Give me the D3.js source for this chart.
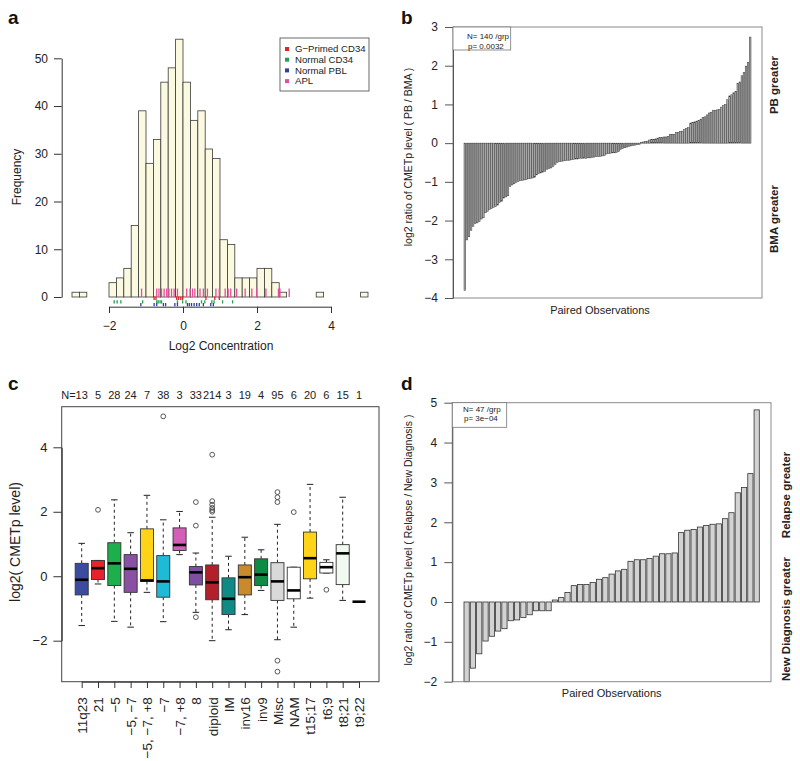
<!DOCTYPE html>
<html><head><meta charset="utf-8">
<script src="https://cdn.jsdelivr.net/npm/d3@7"></script>
<style>
body{margin:0;background:#fff;}
svg{font-family:"Liberation Sans",Arial,Helvetica,sans-serif;}
</style></head><body>
<svg id="chart" width="800" height="761"></svg>
<script>
// ---------- Panel a : histogram ----------
const histBinStarts = [-3.0,-2.8,-2.6,-2.4,-2.2,-2.0,-1.8,-1.6,-1.4,-1.2,-1.0,-0.8,-0.6,-0.4,-0.2,0.0,0.2,0.4,0.6,0.8,1.0,1.2,1.4,1.6,1.8,2.0,2.2,2.4,2.6,2.8,3.0,3.2,3.4,3.6,3.8,4.0,4.2,4.4,4.6,4.8];
const histCounts    = [1,1,0,0,0,3,4,6,15,39,28,33,45,48,54,45,37,39,31,29,12,11,4,4,4,6,6,3,1,0,0,0,0,1,0,0,0,0,0,1];
const histXTicks = [-2,0,2,4];
const histYTicks = [0,10,20,30,40,50];
const rugNames = ["G\u2212Primed CD34","Normal CD34","Normal PBL","APL"];
const rugColors = ["#E8202A","#1FA055","#2F3F9F","#E0509F"];
const rugRed   = [-0.78,-0.73,-0.17,-0.12,-0.06,-0.01,0.62,0.86,0.98];
const rugGreen = [-1.86,-1.78,-1.68,-1.09,-0.71,-0.67,-0.62,-0.58,-0.15,-0.01,0.08,0.50,0.59,0.78,0.84,1.07,1.34];
const rugBlue  = [-1.14,-0.78,-0.71,-0.53,-0.47,-0.22,-0.15,0.12,0.17,0.23,0.30,0.37,0.44,0.55,0.75,0.82];
const rugAPL   = [-1.12,-0.71,-0.65,-0.58,-0.51,-0.44,-0.38,-0.31,-0.24,-0.15,0.10,0.19,0.26,0.32,0.46,0.55,0.66,0.89,0.98,1.14,1.22,1.29,1.45,1.68,1.86,1.99,2.24,2.58,2.62,2.87];

// ---------- Panel b : PB / BMA waterfall ----------
const pbValues = [
-3.80,-2.50,-2.42,-2.25,-2.15,-2.08,-2.06,-2.03,-1.96,-1.93,
-1.80,-1.76,-1.71,-1.69,-1.66,-1.64,-1.60,-1.53,-1.50,-1.42,
-1.39,-1.36,-1.12,-1.08,-1.05,-1.01,-0.99,-0.97,-0.96,-0.95,
-0.94,-0.92,-0.91,-0.90,-0.88,-0.82,-0.79,-0.77,-0.75,-0.73,
-0.68,-0.66,-0.64,-0.60,-0.55,-0.50,-0.48,-0.47,-0.46,-0.45,
-0.44,-0.44,-0.43,-0.42,-0.41,-0.41,-0.40,-0.40,-0.39,-0.39,
-0.38,-0.38,-0.37,-0.36,-0.35,-0.35,-0.34,-0.33,-0.32,-0.28,
-0.27,-0.26,-0.25,-0.25,-0.24,-0.22,-0.16,-0.14,-0.12,-0.10,
-0.08,-0.07,-0.06,-0.05,-0.04,-0.03,0.02,0.03,0.04,0.05,
0.08,0.09,0.10,0.11,0.13,0.14,0.15,0.16,0.16,0.17,
0.22,0.23,0.23,0.27,0.28,0.30,0.31,0.35,0.38,0.40,
0.52,0.54,0.55,0.57,0.59,0.62,0.66,0.68,0.73,0.78,
0.80,0.84,0.85,0.86,0.87,0.93,0.97,1.00,1.12,1.22,
1.25,1.30,1.34,1.54,1.58,1.74,1.82,1.99,2.08,2.74];
const pbTicks = [-4,-3,-2,-1,0,1,2,3];

// ---------- Panel c : boxplots ----------
const groups  = ["11q23","21","\u22125","\u22125, \u22127","\u22125, \u22127, +8","\u22127","\u22127, +8","8","diploid","IM","inv16","inv9","Misc","NAM","t15;17","t6;9","t8;21","t9;22"];
const groupN  = [13,5,28,24,7,38,3,33,214,3,19,4,95,6,20,6,15,1];
const whiskLo = [-1.53,-0.24,-1.40,-1.58,-0.50,-1.41,0.67,-1.12,-2.00,-1.66,-1.19,-0.44,-1.97,-1.58,-0.68,0.10,-0.75,-0.79];
const q1      = [-0.58,-0.10,-0.29,-0.50,-0.16,-0.65,0.80,-0.27,-0.73,-1.19,-0.58,-0.29,-0.75,-0.70,-0.08,0.10,-0.26,-0.79];
const medians = [-0.11,0.25,0.40,0.23,-0.13,-0.16,0.97,0.12,-0.19,-0.70,-0.03,0.05,-0.16,-0.44,0.56,0.28,0.71,-0.79];
const q3      = [0.40,0.49,1.04,0.67,1.47,0.64,1.50,0.30,0.35,-0.05,0.35,0.54,0.42,0.28,1.37,0.43,0.98,-0.79];
const whiskHi = [1.02,0.49,2.37,1.35,2.51,1.75,2.01,0.72,1.83,0.62,1.21,0.82,1.61,0.28,2.85,0.51,2.45,-0.79];
// outlier positions: group number (1-based, as on the axis) and value
const outlierGroup = [2,6,8,8,8,9,9,9,9,9,9,13,13,13,13,13,14,16];
const outlierValue = [2.06,4.96,2.30,1.57,-1.27,3.77,2.33,2.22,2.12,2.05,2.00,2.61,2.45,2.30,-2.62,-2.96,1.99,-0.42];
const boxColors = ["#3B4BA0","#E8212A","#1DAF4B","#8A50A3","#FFD318","#1FBAD6","#D35FB7","#7E4FA0","#B2202A","#0F8A84","#C88A2C","#0F8B45","#D9D9D9","#FFFFFF","#FFD318","#FFFFFF","#F0FAF0","#FFFFFF"];
const boxYTicks = [-2,0,2,4];

// ---------- Panel d : Relapse / New Diagnosis waterfall ----------
const relValues = [-2.00,-1.66,-1.30,-0.98,-0.86,-0.73,-0.67,-0.47,-0.45,-0.39,-0.32,-0.22,-0.22,-0.22,
0.05,0.11,0.24,0.41,0.44,0.44,0.49,0.57,0.61,0.70,0.78,0.82,1.02,
1.06,1.06,1.09,1.15,1.21,1.21,1.23,1.74,1.80,1.82,1.88,1.92,1.95,1.96,2.09,2.24,2.74,2.87,3.22,4.82];
const relTicks = [-2,-1,0,1,2,3,4,5];

const svg = d3.select("#chart");
svg.append("rect").attr("width",800).attr("height",761).attr("fill","#fff");

function styleAxis(g, size){
  g.selectAll("path").attr("stroke","#333").attr("stroke-width",1);
  g.selectAll("line").attr("stroke","#333").attr("stroke-width",1);
  g.selectAll("text").attr("fill","#222").style("font-size",size+"px").style("font-family","'Liberation Sans',Arial,sans-serif");
}
function panelLabel(t,x,y){
  svg.append("text").attr("x",x).attr("y",y).text(t).attr("font-weight","bold").attr("font-size",19).attr("fill","#111");
}

// ===== Panel a =====
(function(){
  const g = svg.append("g");
  const x = d3.scaleLinear().domain([-2,4]).range([109,331]);
  const y = d3.scaleLinear().domain([0,50]).range([297,58.3]);
  g.selectAll("rect.bin").data(histBinStarts).join("rect")
    .attr("x",d=>x(d)).attr("width",d=>x(d+0.2)-x(d))
    .attr("y",(d,i)=>y(histCounts[i])).attr("height",(d,i)=>y(0)-y(histCounts[i]))
    .attr("fill","#FBF9E0").attr("stroke","#3a3a3a").attr("stroke-width",0.8);
  const rugs = [
    {vals:rugAPL, c:rugColors[3], y1:288.5, y2:297},
    {vals:rugRed, c:rugColors[0], y1:296.5, y2:300},
    {vals:rugGreen, c:rugColors[1], y1:300.3, y2:303.5},
    {vals:rugBlue, c:rugColors[2], y1:303, y2:306.3}
  ];
  rugs.forEach(r=>{
    g.selectAll(null).data(r.vals).join("line")
      .attr("x1",d=>x(d)).attr("x2",d=>x(d)).attr("y1",r.y1).attr("y2",r.y2)
      .attr("stroke",r.c).attr("stroke-width",1.3);
  });
  const ax = g.append("g").attr("transform","translate(0,306.7)")
    .call(d3.axisBottom(x).tickValues(histXTicks).tickSize(6.3).tickSizeOuter(0).tickPadding(8).tickFormat(d3.format("d")));
  styleAxis(ax,12);
  const ay = g.append("g").attr("transform","translate(61.7,0)")
    .call(d3.axisLeft(y).tickValues(histYTicks).tickSize(7.7).tickSizeOuter(0).tickPadding(6));
  styleAxis(ay,12);
  g.append("text").attr("x",221).attr("y",350).attr("text-anchor","middle").attr("font-size",12).attr("fill","#222").text("Log2 Concentration");
  g.append("text").attr("transform","translate(21,177) rotate(-90)").attr("text-anchor","middle").attr("font-size",12).attr("fill","#222").text("Frequency");
  // legend
  g.append("rect").attr("x",280).attr("y",38).attr("width",89).attr("height",53).attr("fill","#fff").attr("stroke","#444").attr("stroke-width",0.8);
  const lg = g.selectAll("g.leg").data(rugNames).join("g").attr("transform",(d,i)=>`translate(287,${49+i*10.7})`);
  lg.append("rect").attr("x",-2).attr("y",-2).attr("width",4).attr("height",4).attr("fill",(d,i)=>rugColors[i]);
  lg.append("text").attr("x",8).attr("dy","0.35em").attr("font-size",9.6).attr("fill","#222").text(d=>d);
  panelLabel("a",8,24);
})();

// waterfall helper
function waterfall(vals, ticks, box, barRange, yRange, fill, stroke, sw){
  const g = svg.append("g");
  const x = d3.scaleBand().domain(d3.range(vals.length)).range(barRange).paddingInner(0.17).paddingOuter(0);
  const y = d3.scaleLinear().domain([ticks[0],ticks[ticks.length-1]]).range(yRange);
  g.selectAll("rect.bar").data(vals).join("rect")
    .attr("x",(d,i)=>x(i)).attr("width",x.bandwidth())
    .attr("y",d=>Math.min(y(0),y(d))).attr("height",d=>Math.abs(y(d)-y(0)))
    .attr("fill",fill).attr("stroke",stroke).attr("stroke-width",sw);
  g.append("rect").attr("x",box[0]).attr("y",box[1]).attr("width",box[2]-box[0]).attr("height",box[3]-box[1])
    .attr("fill","none").attr("stroke","#8a8a8a").attr("stroke-width",1);
  const ay = g.append("g").attr("transform",`translate(${box[0]},0)`)
    .call(d3.axisLeft(y).tickValues(ticks).tickSize(8).tickSizeOuter(0).tickPadding(7).tickFormat(d3.format("d")));
  styleAxis(ay,12);
  ay.selectAll("path,line").attr("stroke","#555");
  return g;
}

// ===== Panel b =====
(function(){
  const g = waterfall(pbValues, pbTicks, [453,27,762,298], [464,751], [298,27], "#a8a8a8", "#3c3c3c", 0.5);
  g.append("rect").attr("x",453).attr("y",27).attr("width",57.7).attr("height",23).attr("fill","#fff").attr("stroke","#777").attr("stroke-width",0.8);
  g.append("text").attr("x",467).attr("y",35.7).attr("dy","0.35em").attr("font-size",8).attr("fill","#222").text("N= 140 /grp");
  g.append("text").attr("x",468).attr("y",46.5).attr("dy","0.35em").attr("font-size",8).attr("fill","#222").text("p= 0.0032");
  g.append("text").attr("x",600).attr("y",314).attr("text-anchor","middle").attr("font-size",11).attr("fill","#222").text("Paired Observations");
  g.append("text").attr("transform","translate(412,157) rotate(-90)").attr("text-anchor","middle").attr("font-size",10.5).attr("fill","#222").text("log2 ratio of CMETp level ( PB / BMA )");
  g.append("text").attr("transform","translate(778,85) rotate(-90)").attr("text-anchor","middle").attr("font-size",11.5).attr("font-weight","bold").attr("fill","#222").text("PB greater");
  g.append("text").attr("transform","translate(778,219) rotate(-90)").attr("text-anchor","middle").attr("font-size",11.5).attr("font-weight","bold").attr("fill","#222").text("BMA greater");
  panelLabel("b",401,24);
})();

// ===== Panel c =====
(function(){
  const g = svg.append("g");
  const x = d3.scaleLinear().domain([1,18]).range([81.7,359]);
  const y = d3.scaleLinear().domain([-2,4]).range([640.7,447.3]);
  const hw = 0.4*(x(2)-x(1)), cw = 0.2*(x(2)-x(1));
  g.append("rect").attr("x",61.7).attr("y",406.7).attr("width",379-61.7).attr("height",681.7-406.7).attr("fill","none").attr("stroke","#444").attr("stroke-width",1);
  const bx = g.selectAll("g.bx").data(groups).join("g").attr("transform",(d,i)=>`translate(${x(i+1)},0)`);
  // whiskers
  bx.append("line").attr("x1",0).attr("x2",0).attr("y1",(d,i)=>y(q3[i])).attr("y2",(d,i)=>y(whiskHi[i])).attr("stroke","#222").attr("stroke-dasharray","3,3");
  bx.append("line").attr("x1",0).attr("x2",0).attr("y1",(d,i)=>y(q1[i])).attr("y2",(d,i)=>y(whiskLo[i])).attr("stroke","#222").attr("stroke-dasharray","3,3");
  bx.append("line").attr("x1",-cw).attr("x2",cw).attr("y1",(d,i)=>y(whiskHi[i])).attr("y2",(d,i)=>y(whiskHi[i])).attr("stroke","#222").attr("stroke-width",1);
  bx.append("line").attr("x1",-cw).attr("x2",cw).attr("y1",(d,i)=>y(whiskLo[i])).attr("y2",(d,i)=>y(whiskLo[i])).attr("stroke","#222").attr("stroke-width",1);
  bx.append("rect").attr("x",-hw).attr("width",2*hw).attr("y",(d,i)=>y(q3[i])).attr("height",(d,i)=>y(q1[i])-y(q3[i]))
    .attr("fill",(d,i)=>boxColors[i]).attr("stroke","#333").attr("stroke-width",0.9);
  bx.append("line").attr("x1",-hw).attr("x2",hw).attr("y1",(d,i)=>y(medians[i])).attr("y2",(d,i)=>y(medians[i])).attr("stroke","#000").attr("stroke-width",2.6);
  g.selectAll("circle.out").data(outlierValue).join("circle")
    .attr("cx",(d,i)=>x(outlierGroup[i])).attr("cy",d=>y(d)).attr("r",2.4)
    .attr("fill","none").attr("stroke","#444").attr("stroke-width",0.9);
  const ay = g.append("g").attr("transform","translate(61.7,0)")
    .call(d3.axisLeft(y).tickValues(boxYTicks).tickSize(8.3).tickSizeOuter(0).tickPadding(6).tickFormat(d3.format("d")));
  styleAxis(ay,13);
  const ax = g.append("g").attr("transform","translate(0,681.7)")
    .call(d3.axisBottom(x).tickValues(d3.range(1,19)).tickSize(6.3).tickSizeOuter(0).tickFormat((d)=>groups[d-1]));
  styleAxis(ax,13.5);
  ax.selectAll("text").attr("transform","rotate(-90)").attr("x",-15.5).attr("y",0).attr("dy","0.36em").style("text-anchor","end");
  // N labels
  const nt = g.selectAll("text.n").data(groupN).join("text").attr("class","n")
    .attr("x",(d,i)=>x(i+1)).attr("y",395).attr("dy","0.35em").attr("text-anchor","middle").attr("font-size",11).attr("fill","#222").text(d=>d);
  const w0 = nt.node().getComputedTextLength();
  g.append("text").attr("x",x(1)-w0/2).attr("y",395).attr("dy","0.35em").attr("text-anchor","end").attr("font-size",11).attr("fill","#222").text("N=");
  g.append("text").attr("transform","translate(20,542) rotate(-90)").attr("text-anchor","middle").attr("font-size",14).attr("fill","#222").text("log2( CMETp level)");
  panelLabel("c",8,390);
})();

// ===== Panel d =====
(function(){
  const g = waterfall(relValues, relTicks, [452.3,402.7,771,681.7], [464,759.3], [681.7,402.7], "#d3d3d3", "#333", 0.8);
  g.append("rect").attr("x",452.3).attr("y",402.7).attr("width",54.4).attr("height",24.6).attr("fill","#fff").attr("stroke","#777").attr("stroke-width",0.8);
  g.append("text").attr("x",463).attr("y",409.3).attr("dy","0.35em").attr("font-size",8).attr("fill","#222").text("N= 47 /grp");
  g.append("text").attr("x",464).attr("y",418.5).attr("dy","0.35em").attr("font-size",8).attr("fill","#222").text("p= 3e\u221204");
  g.append("text").attr("x",611.7).attr("y",697).attr("text-anchor","middle").attr("font-size",11).attr("fill","#222").text("Paired Observations");
  g.append("text").attr("transform","translate(412,540) rotate(-90)").attr("text-anchor","middle").attr("font-size",10.5).attr("fill","#222").text("log2 ratio of CMETp level ( Relapse / New Diagnosis )");
  g.append("text").attr("transform","translate(790,495) rotate(-90)").attr("text-anchor","middle").attr("font-size",11.5).attr("font-weight","bold").attr("fill","#222").text("Relapse greater");
  g.append("text").attr("transform","translate(790,619) rotate(-90)").attr("text-anchor","middle").attr("font-size",11.5).attr("font-weight","bold").attr("fill","#222").text("New Diagnosis greater");
  panelLabel("d",401,390);
})();
</script></body></html>
